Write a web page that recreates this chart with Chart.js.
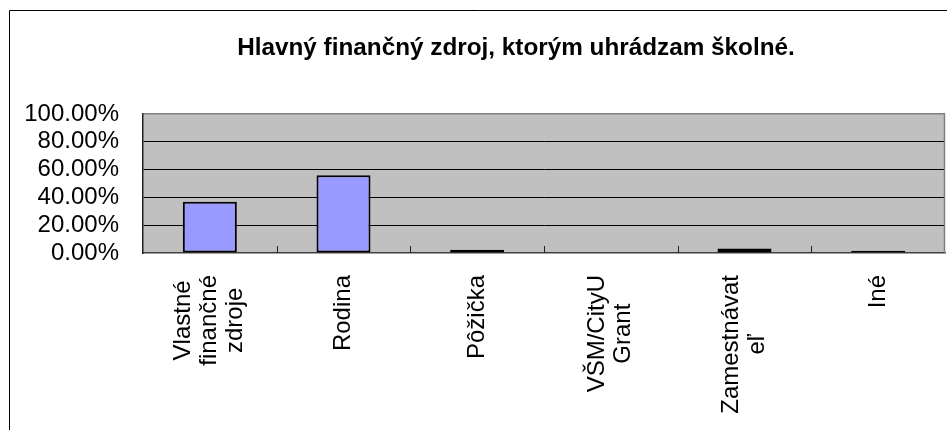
<!DOCTYPE html>
<html>
<head>
<meta charset="utf-8">
<script src="https://cdn.jsdelivr.net/npm/chart.js@4/dist/chart.umd.min.js"></script>
<style>
  html, body { margin: 0; padding: 0; background: #fff; overflow: hidden; }
  #wrap { width: 947px; height: 430px; }
</style>
</head>
<body>
<div id="wrap"><canvas id="chart" width="947" height="430"></canvas></div>
<script>
// chart data
const chartTitle = "Hlavný finančný zdroj, ktorým uhrádzam školné.";
const categories = [
    ["Vlastné", "finančné", "zdroje"],
    ["Rodina"],
    ["Pôžička"],
    ["VŠM/CityU", "Grant"],
    ["Zamestnávat", "eľ"],
    ["Iné"]
];
const shares = [36.8, 56.0, 2.4, 0, 3.2, 1.6];
const yTicks = [0, 20, 40, 60, 80, 100];

const FONT = "'Liberation Sans', Arial, sans-serif";

// frame, plot background, title and rotated category labels
const decorPlugin = {
    id: "decor",
    beforeDraw(chart) {
        const { ctx, chartArea } = chart;
        ctx.save();
        ctx.fillStyle = "#C0C0C0";
        ctx.fillRect(chartArea.left, chartArea.top, chartArea.right - chartArea.left, chartArea.bottom - chartArea.top);
        ctx.strokeStyle = "#000";
        ctx.lineWidth = 1;
        ctx.beginPath();
        ctx.moveTo(9.5, 430);
        ctx.lineTo(9.5, 10.5);
        ctx.lineTo(947, 10.5);
        ctx.stroke();
        ctx.fillStyle = "#000";
        ctx.font = "bold 24.3px " + FONT;
        ctx.textAlign = "center";
        ctx.textBaseline = "alphabetic";
        ctx.fillText(chartTitle, 516, 55);
        ctx.restore();
    },
    afterDatasetsDraw(chart) {
        const { ctx, chartArea } = chart;
        const x = chart.scales.x;
        ctx.save();
        ctx.strokeStyle = "#808080";
        ctx.lineWidth = 1.5;
        ctx.beginPath();
        ctx.moveTo(chartArea.right - 0.5, chartArea.top);
        ctx.lineTo(chartArea.right - 0.5, chartArea.bottom);
        ctx.stroke();
        ctx.strokeStyle = "#222";
        ctx.lineWidth = 1;
        ctx.beginPath();
        for (let i = 1; i < categories.length; i++) {
            const px = Math.round(x.getPixelForValue(i - 0.5)) + 0.5;
            ctx.moveTo(px, chartArea.bottom);
            ctx.lineTo(px, chartArea.bottom - 7);
        }
        ctx.stroke();

        // category labels, rotated, lines centred on each other, top-aligned
        ctx.fillStyle = "#000";
        ctx.font = "24px " + FONT;
        ctx.textAlign = "center";
        ctx.textBaseline = "middle";
        const lineH = 26;
        categories.forEach((lines, i) => {
            const cx = x.getPixelForValue(i);
            const maxW = Math.max(...lines.map(l => ctx.measureText(l).width));
            const cy = chartArea.bottom + 22 + maxW / 2;
            lines.forEach((line, j) => {
                ctx.save();
                ctx.translate(cx + (j - (lines.length - 1) / 2) * lineH, cy);
                ctx.rotate(-Math.PI / 2);
                ctx.fillText(line, 0, 0);
                ctx.restore();
            });
        });
        ctx.restore();
    }
};

new Chart(document.getElementById("chart").getContext("2d"), {
    type: "bar",
    data: {
        labels: categories.map(l => l.join(" ")),
        datasets: [{
            data: shares,
            backgroundColor: "#9999FF",
            borderColor: "#000",
            borderWidth: 2,
            borderSkipped: false,
            categoryPercentage: 1,
            barPercentage: 0.404
        }]
    },
    options: {
        responsive: false,
        devicePixelRatio: 1,
        animation: false,
        layout: { padding: { top: 114, right: 2, bottom: 0, left: 0 } },
        plugins: {
            legend: { display: false },
            title: { display: false },
            tooltip: { enabled: false }
        },
        scales: {
            x: {
                offset: true,
                grid: { display: false, drawTicks: false },
                border: { display: true, color: "#404040", width: 1.5 },
                ticks: { display: false },
                afterFit(scale) { scale.height = 177; }
            },
            y: {
                min: 0,
                max: 100,
                afterBuildTicks(scale) { scale.ticks = yTicks.map(v => ({ value: v })); },
                grid: {
                    drawTicks: false,
                    color: ctx => ctx.tick && ctx.tick.value === 100 ? "#808080" : (ctx.tick && ctx.tick.value === 0 ? "rgba(0,0,0,0)" : "#000"),
                    lineWidth: ctx => ctx.tick && ctx.tick.value === 100 ? 1.5 : 1
                },
                border: { display: true, color: "#222", width: 1.5 },
                ticks: {
                    color: "#000",
                    autoSkip: false,
                    font: { family: FONT, size: 24 },
                    padding: 24,
                    callback: v => v.toFixed(2) + "%"
                },
                afterFit(scale) { scale.width = 143; }
            }
        }
    },
    plugins: [decorPlugin]
});
</script>
</body>
</html>
